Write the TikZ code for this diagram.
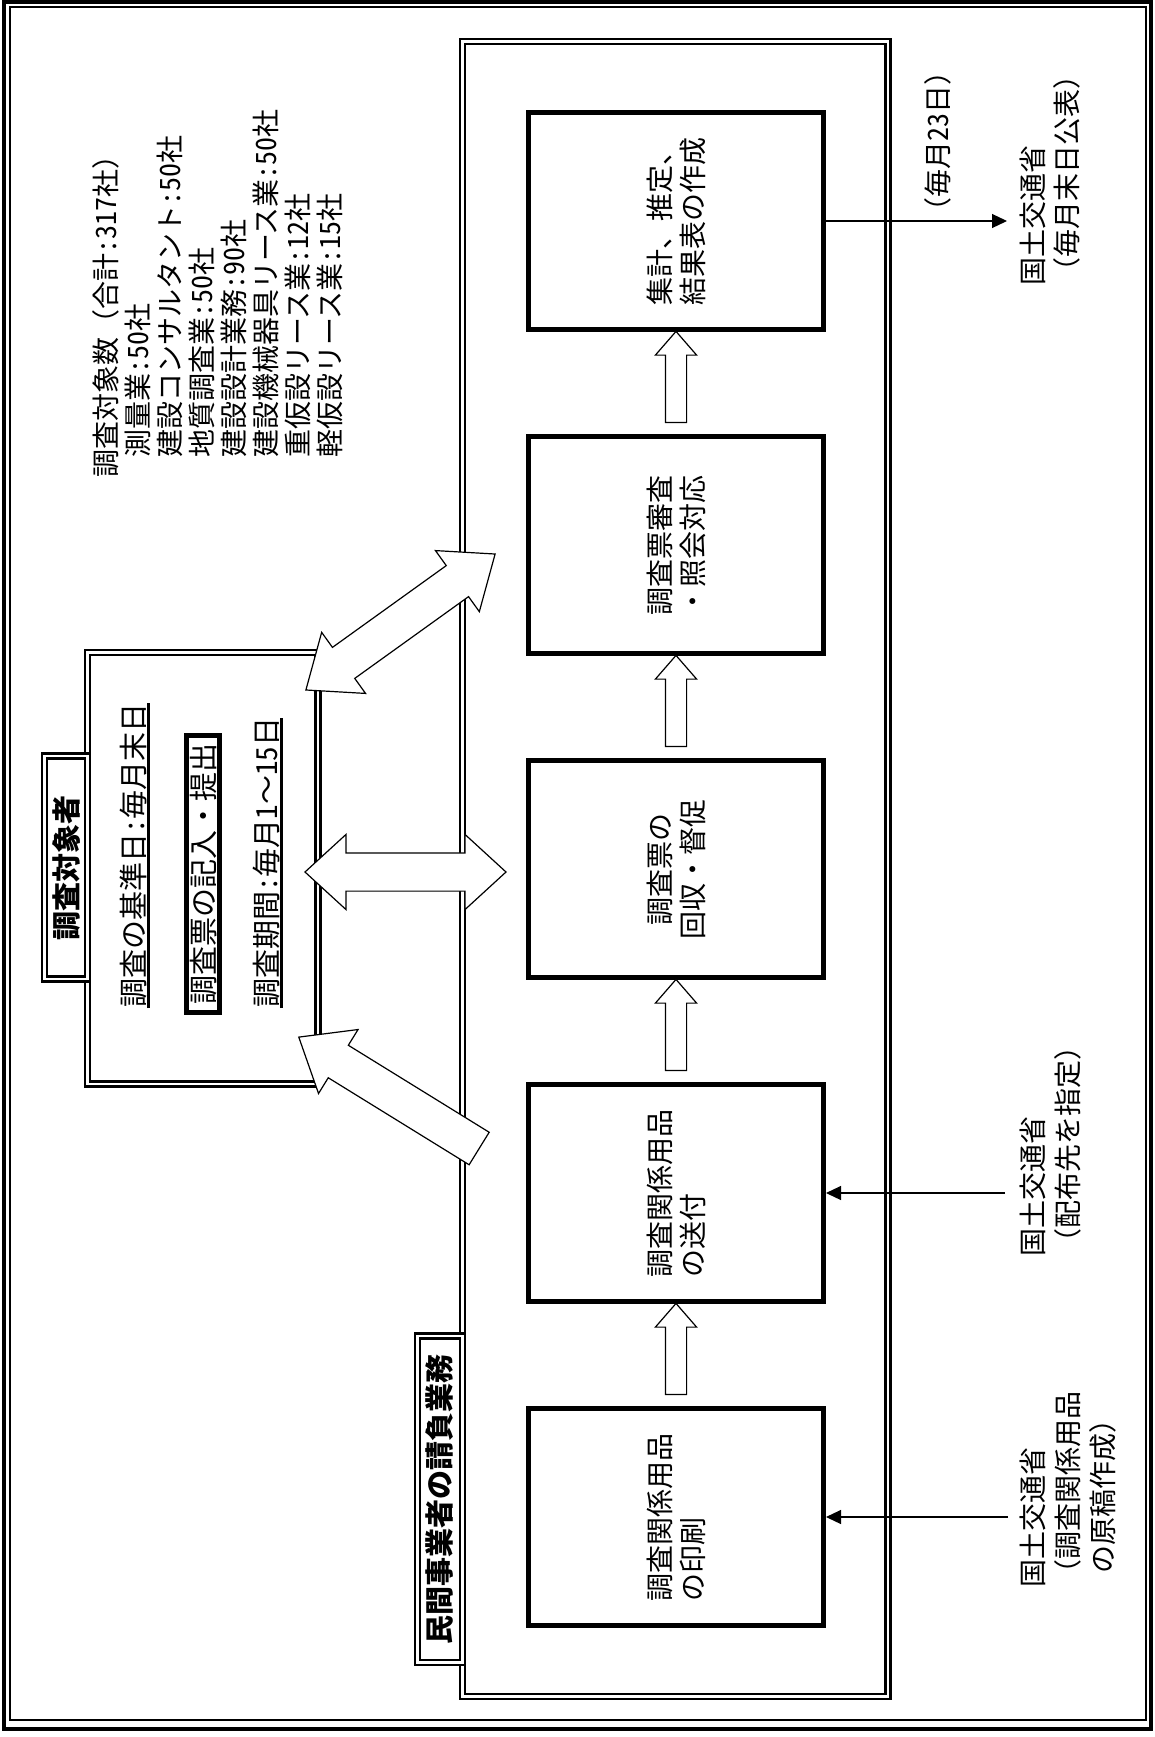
\documentclass[tikz,border=0pt]{standalone}
\usepackage{fontspec}
\setmainfont{Noto Sans CJK JP}
\newcommand{\hw}[1]{{\addfontfeatures{RawFeature=+hwid}#1}}
\usetikzlibrary{shapes.arrows,arrows.meta,calc,positioning}

\tikzset{
  dblbox/.style={draw, line width=2.5pt, double distance=2.5pt, inner sep=0pt},
  procbox/.style={draw, line width=5pt, minimum width=295pt, minimum height=217pt, inner sep=0pt},
  vtext/.style={rotate=90, inner sep=0pt, font=\fontsize{28}{33}\selectfont},
  onerow/.style={text height=25pt, text depth=3.5pt},
  tabtext/.style={rotate=90, inner sep=0pt, font=\fontsize{29}{33}\selectfont\bfseries},
  upblock/.style={single arrow, draw, fill=white, line width=1.2pt, inner xsep=0pt, inner ysep=10pt,
    minimum width=40pt, minimum height=91pt, single arrow head extend=10pt,
    single arrow tip angle=82, rotate=90},
  bigblock/.style={draw, fill=white, line width=1.2pt, inner xsep=0pt, inner ysep=18.5pt,
    minimum width=74pt},
  thinarrow/.style={-{Triangle[length=15pt,width=14pt]}, line width=1.2pt}
}

\begin{document}
\begin{tikzpicture}[x=1pt,y=-1pt]
\useasboundingbox (0,0) rectangle (1155,1737);

% page frame
\draw[line width=4pt] (4,2) rectangle (1150.5,1729);
\draw[line width=2.5pt] (10,7) rectangle (1146,1720);

% contractor side
\node[dblbox, minimum width=425.5pt, minimum height=1655pt] (firm) at (675.25,869) {};
\node[dblbox, fill=white, minimum width=45pt, minimum height=326.5pt] (firmtab) at (440,1499) {};
\node[tabtext] (firmlbl) at (firmtab) {民間事業者の請負業務};

% respondents
\node[dblbox, minimum width=230.5pt, minimum height=431.5pt] (resp) at (202.75,868.25) {};
\node[dblbox, fill=white, minimum width=43pt, minimum height=223pt] (resptab) at (66,867.5) {};
\node[tabtext] (resplbl) at (resptab) {調査対象者};

\node[vtext, onerow, anchor=west, font=\fontsize{29}{33}\selectfont] (basis) at (134,1008) {調査の基準日\hw{:}毎月末日};
\draw[line width=3pt] (basis.south west) -- (basis.south east);
\node[vtext, anchor=west, draw, line width=5pt, inner xsep=8pt, inner ysep=2pt,
  text height=25.5pt, text depth=3.5pt, font=\fontsize{29}{33}\selectfont] (fillin) at (203,1015) {調査票の記入・提出};
\node[vtext, onerow, anchor=west, font=\fontsize{29}{33}\selectfont] (period) at (267,1008) {調査期間\hw{:}毎月\hw{1}～\hw{15}日};
\draw[line width=3pt] (period.south west) -- (period.south east);

% survey size
\node[vtext, anchor=north west, align=left, font=\fontsize{28}{32}\selectfont] (counts) at (92,478)
  {調査対象数（合計\hw{:317}社）\\
   \hspace*{20pt}測量業\hw{:50}社\\
   \hspace*{20pt}建設コンサルタント\hw{:50}社\\
   \hspace*{20pt}地質調査業\hw{:50}社\\
   \hspace*{20pt}建設設計業務\hw{:90}社\\
   \hspace*{20pt}建設機械器具リース業\hw{:50}社\\
   \hspace*{20pt}重仮設リース業\hw{:12}社\\
   \hspace*{20pt}軽仮設リース業\hw{:15}社};

% process steps
\node[procbox] (print) at (676,1517) {};
\node[procbox, above=102pt of print] (ship) {};
\node[procbox, above=102pt of ship] (collect) {};
\node[procbox, above=102pt of collect] (review) {};
\node[procbox, above=102pt of review] (tally) {};

\node[vtext, align=left] (print-t) at (print) {調査関係用品\\の印刷};
\node[vtext, align=left] (ship-t) at (ship) {調査関係用品\\の送付};
\node[vtext, align=center] (collect-t) at (collect) {調査票の\\回収・督促};
\node[vtext, align=center] (review-t) at (review) {調査票審査\\・照会対応};
\node[vtext, align=center] (tally-t) at (tally) {集計、推定、\\結果表の作成};

\node[upblock] (up1) at ($(print.north)!0.5!(ship.south)$) {};
\node[upblock] (up2) at ($(ship.north)!0.5!(collect.south)$) {};
\node[upblock] (up3) at ($(collect.north)!0.5!(review.south)$) {};
\node[upblock] (up4) at ($(review.north)!0.5!(tally.south)$) {};

% exchange with respondents
\node[bigblock, double arrow, minimum height=201pt, double arrow head extend=18.5pt,
  double arrow tip angle=85] (xchg) at (405.5,872) {};
\node[bigblock, double arrow, minimum height=233pt, double arrow head extend=18.5pt,
  double arrow tip angle=78, rotate=35.7] (query) at (400.5,622) {};
\node[bigblock, single arrow, minimum height=212pt, single arrow head extend=18.5pt,
  single arrow tip angle=78, rotate=148.3] (mail) at (399,1099) {};

% ministry
\node[vtext, anchor=north west, align=left, font=\fontsize{28}{34}\selectfont] (mlitC) at (1020,286)
  {国土交通省\\（毎月末日公表）};
\node[vtext, onerow, anchor=west] (due) at (938,226) {（毎月\hw{23}日）};
\draw[thinarrow, shorten >=13pt] (tally.east) -- (tally.east -| mlitC.north);

\node[vtext, anchor=north west, align=left, font=\fontsize{28}{35}\selectfont] (mlitB) at (1020,1257)
  {国土交通省\\（配布先を指定）};
\draw[thinarrow, shorten <=15pt] (mlitB.north |- ship.east) -- (ship.east);

\node[vtext, anchor=north west, align=left, font=\fontsize{28}{35}\selectfont] (mlitA) at (1020,1588)
  {国土交通省\\（調査関係用品\\\hspace*{14pt}の原稿作成）};
\draw[thinarrow, shorten <=12pt] (mlitA.north |- print.east) -- (print.east);
\end{tikzpicture}
\end{document}
